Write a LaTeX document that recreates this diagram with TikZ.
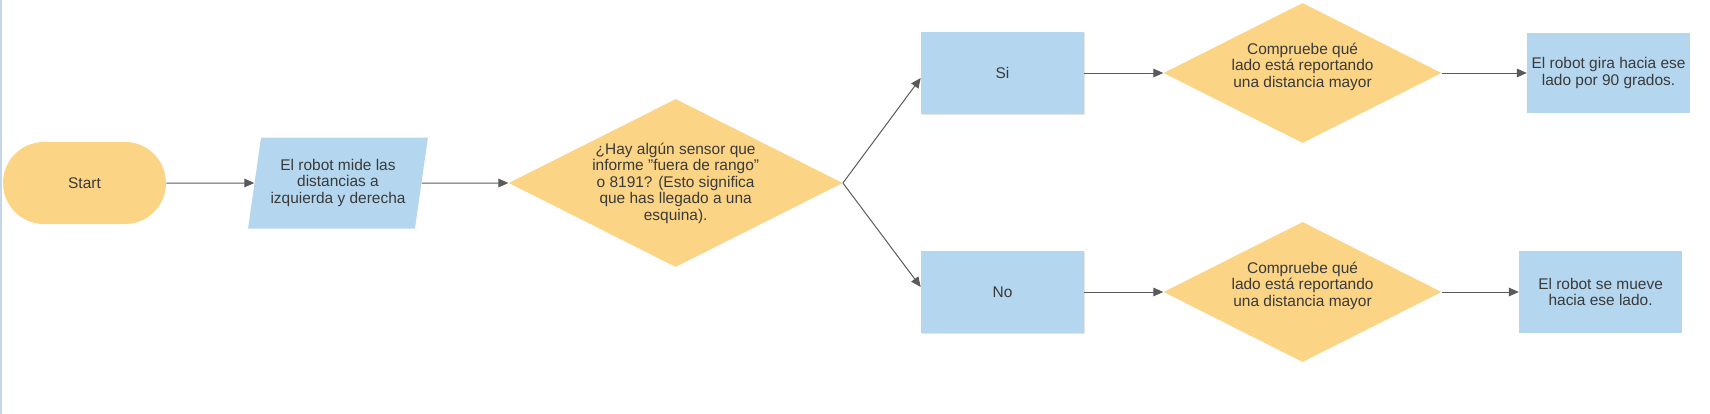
\documentclass[tikz,border=0pt]{standalone}
\usepackage{fontspec}
\setmainfont{Liberation Sans}
\usepackage{xcolor}
\usepackage{tikz}
\usetikzlibrary{positioning,arrows.meta,shapes.geometric,shadows}
\definecolor{termyellow}{HTML}{FBD486}
\definecolor{stepblue}{HTML}{B4D7EF}
\definecolor{linegrey}{HTML}{5A5A5A}
\definecolor{textgrey}{HTML}{3A3A3A}
\definecolor{edgeblue}{HTML}{C6D6EA}

\begin{document}
\begin{tikzpicture}[
  x=0.75pt, y=0.75pt,
  node distance=10mm,
  every node/.style={font=\fontsize{11.6}{12.4}\selectfont, text=textgrey, align=center},
  terminal/.style={fill=termyellow, rounded corners=30.75pt, minimum width=122.25pt, minimum height=61.5pt},
  iobox/.style={trapezium, trapezium left angle=77, trapezium right angle=103, trapezium stretches=true, fill=stepblue, minimum width=135pt, minimum height=68.25pt, inner sep=1pt},
  decision/.style={diamond, aspect=2, fill=termyellow, inner sep=0pt},
  check/.style={decision, minimum width=208.5pt, minimum height=105pt, text depth=12pt},
  stepbox/.style={fill=stepblue, minimum width=122.25pt, minimum height=61.5pt, inner sep=2pt},
  shadowed/.style={drop shadow={shadow xshift=0.6pt, shadow yshift=-1pt, opacity=0.25, fill=black!40}},
  flow/.style={draw=linegrey, line width=0.75pt, -{Triangle[length=7.5pt,width=6.5pt]}}
]
  \useasboundingbox (0,0) rectangle (1710,-414);
  \draw[edgeblue, line width=1.5pt] (0.75,0) -- (0.75,-414);

  % main line
  \node[terminal] (start) at (84.5,-183) {Start};
  \node[iobox, right=66pt of start] (measure) {El robot mide las\\distancias a\\izquierda y derecha};
  \node[decision, minimum width=250.5pt, minimum height=126pt, right=65pt of measure] (corner) {¿Hay algún sensor que\\informe "fuera de rango"\\o 8191? (Esto significa\\que has llegado a una\\esquina).};

  % yes branch
  \node[stepbox, shadowed] (yes) at (1002.5,-73) {Si};
  \node[check, right=59.25pt of yes] (sideyes) {Compruebe qué\\lado está reportando\\una distancia mayor};
  \node[stepbox, minimum height=60pt, right=63.75pt of sideyes] (turn) {El robot gira hacia ese\\lado por 90 grados.};

  % no branch
  \node[stepbox, shadowed] (no) at (1002.5,-292) {No};
  \node[check, right=59.25pt of no] (sideno) {Compruebe qué\\lado está reportando\\una distancia mayor};
  \node[stepbox, right=57.75pt of sideno] (move) {El robot se mueve\\hacia ese lado.};

  \draw[flow] (start) -- (measure);
  \draw[flow] (measure) -- (corner);
  \draw[flow] (corner.east) -- ([yshift=-3.75pt]yes.west);
  \draw[flow] (corner.east) -- ([yshift=3.75pt]no.west);
  \draw[flow] (yes) -- (sideyes);
  \draw[flow] (sideyes) -- (turn);
  \draw[flow] (no) -- (sideno);
  \draw[flow] (sideno) -- (move);
\end{tikzpicture}
\end{document}
